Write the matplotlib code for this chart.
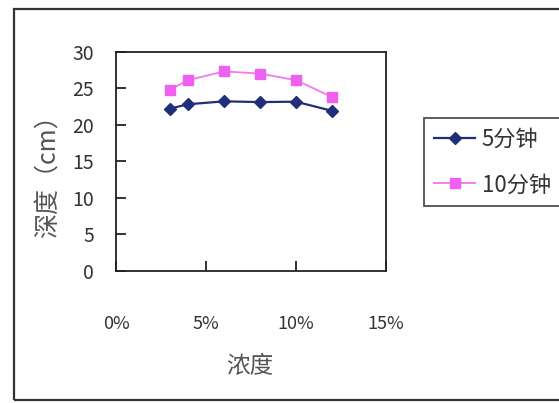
import matplotlib
matplotlib.use("Agg")
import matplotlib.pyplot as plt
from matplotlib.patches import Rectangle
from matplotlib.ticker import FuncFormatter

plt.rcParams['font.family'] = ['Noto Sans CJK SC', 'DejaVu Sans']

# =============================================================================
# Data
# =============================================================================
concentration = [0.03, 0.04, 0.06, 0.08, 0.10, 0.12]
depth_5min = [22.2, 22.8, 23.2, 23.1, 23.15, 21.9]
depth_10min = [24.8, 26.1, 27.3, 27.0, 26.1, 23.8]
series_names = ['5分钟', '10分钟']
x_ticks = [0, 0.05, 0.10, 0.15]
y_ticks = [0, 5, 10, 15, 20, 25, 30]

# =============================================================================
# Figure
# =============================================================================
fig = plt.figure(figsize=(5.59, 4.03), dpi=100)
fig.patch.set_facecolor('white')

# outer chart border (right side runs off the picture)
fig.patches.append(Rectangle((14 / 559, 3 / 403), 1.2, 391 / 403,
                             transform=fig.transFigure, fill=False,
                             edgecolor='#333333', linewidth=1.6))

ax = fig.add_axes([116 / 559, 1 - 270.7 / 403, 270 / 559, 219 / 403])
ax.plot(concentration, depth_5min, color='#1f2f7a', marker='D', markersize=6.5,
        linewidth=1.6, label=series_names[0])
ax.plot(concentration, depth_10min, color='#f080f0', marker='s', markersize=7.5,
        markerfacecolor='#f060f0', markeredgecolor='#f060f0',
        linewidth=1.4, label=series_names[1])

ax.set_xlim(0, 0.15)
ax.set_ylim(0, 30)
ax.set_xticks(x_ticks)
ax.set_yticks(y_ticks)
ax.xaxis.set_major_formatter(FuncFormatter(lambda v, p: '%d%%' % round(v * 100)))

for s in ax.spines.values():
    s.set_color('#222222')
    s.set_linewidth(1.3)

ax.tick_params(axis='x', direction='in', length=7, width=1.3, pad=32,
               labelsize=13, labelcolor='#333333', color='#222222')
ax.tick_params(axis='y', direction='in', length=7, width=1.3, pad=16,
               labelsize=14, labelcolor='#333333', color='#222222')

fig.text(48 / 559, 1 - 170 / 403, '深度（cm）', rotation=90, ha='center',
         va='center', fontsize=18, color='#555555')
fig.text(250 / 559, 1 - 367 / 403, '浓度', ha='center', va='center',
         fontsize=17, color='#555555')

leg = ax.legend(loc='upper left', bbox_to_anchor=(424 / 559, 1 - 118 / 403),
                bbox_transform=fig.transFigure, frameon=True, fancybox=False,
                fontsize=16, handlelength=1.85, labelspacing=1.0,
                borderpad=0.45, borderaxespad=0, handletextpad=0.3,
                labelcolor='#333333')
leg.get_frame().set_edgecolor('#222222')
leg.get_frame().set_linewidth(1.3)

fig.savefig('out.png', dpi=100)
